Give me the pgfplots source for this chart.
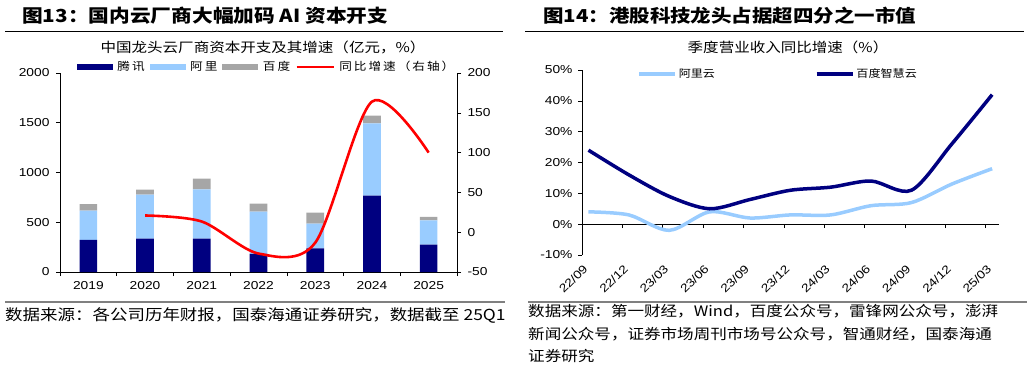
\documentclass[border=0pt]{standalone}
\usepackage{pgfplots}
\usepackage{pgfplotstable}
\pgfplotsset{compat=1.18}
\usepackage{fontspec}
\setmainfont{Liberation Sans}
\newfontfamily\cjk{Noto Sans CJK SC}[FakeStretch=1.15]
\newfontfamily\cjkl{Noto Sans CJK SC}[FakeStretch=1.15, LetterSpace=18]
\newfontfamily\arial{Liberation Sans}[FakeStretch=1.2]
\definecolor{navy}{RGB}{0,0,128}
\definecolor{lblue}{RGB}{153,204,255}
\definecolor{bgray}{RGB}{166,166,166}
\definecolor{rulegray}{RGB}{128,128,128}
\begin{document}
\pgfplotstableread{
x tx ali bd
0 322 294 67
1 335 442 50
2 335 496 107
3 181 425 81
4 238 248 110
5 767 727 77
6 275 244 34
}\capex
\pgfplotstableread{
x ali bd
0.16 4 24
1.16 3 16
2.16 -2 9
3.16 4 5
4.16 2 8
5.16 3 11
6.16 3 12
7.16 6 14
8.16 7 11
9.16 13 26
10.16 18 42
}\cloud
\begin{tikzpicture}[x=1pt,y=1pt]
\useasboundingbox (0,0) rectangle (1032,376);
% titles
\node[anchor=west, inner sep=0] at (22,360) {\cjk\bfseries\fontsize{18}{18}\selectfont 图13：国内云厂商大幅加码 AI 资本开支};
\node[anchor=west, inner sep=0] at (543,360) {\cjk\bfseries\fontsize{17.8}{18}\selectfont 图14：港股科技龙头占据超四分之一市值};
\draw[line width=0.8pt] (5,345) -- (503,345);
\draw[line width=0.8pt] (525,345) -- (1024,345);
\node[inner sep=0] at (263,329) {\cjk\fontsize{13.5}{14}\selectfont 中国龙头云厂商资本开支及其增速（亿元，\%）};
\node[inner sep=0] at (788,329) {\cjk\fontsize{13.5}{14}\selectfont 季度营业收入同比增速（\%）};
% bottom rules and sources
\draw[rulegray, line width=2pt] (5,74) -- (505,74);
\draw[rulegray, line width=2pt] (528,74) -- (1027,74);
\node[anchor=west, inner sep=0, font=\cjk\fontsize{15.2}{16}\selectfont] at (5,61) {数据来源：各公司历年财报，国泰海通证券研究，数据截至 25Q1};
\node[anchor=north west, inner sep=0, align=left, font=\cjk\fontsize{14.4}{22.5}\selectfont] at (528,71.5) {数据来源：第一财经，Wind，百度公众号，雷锋网公众号，澎湃\\新闻公众号，证券市场周刊市场号公众号，智通财经，国泰海通\\证券研究};

% ---------- left chart: bars ----------
\begin{axis}[at={(60pt,104pt)}, anchor=south west, scale only axis,
  width=397pt, height=199pt,
  xmin=-0.5, xmax=6.5, ymin=0, ymax=2000,
  ybar stacked, bar width=17.7pt,
  axis y line*=left, axis x line*=bottom,
  xtick={-0.5,0.5,...,6.5}, x tick label as interval,
  xticklabels={2019,2020,2021,2022,2023,2024,2025},
  ytick={0,500,...,2000},
  tick align=outside, major tick length=4pt,
  tick style={black, line width=0.6pt},
  axis line style={black, line width=0.8pt},
  /pgf/number format/assume math mode=true,
  /pgf/number format/1000 sep={},
  ticklabel style={font=\arial\fontsize{11.5}{12}\selectfont},
  yticklabel style={xshift=-3pt},
  xticklabel style={yshift=-2pt},
  legend columns=4,
  legend style={at={(0.042,1.03)}, anchor=west, draw=none, fill=none,
     inner sep=0pt, font=\cjkl\fontsize{11}{11}\selectfont,
     /tikz/every even column/.append style={column sep=3pt}},
]
\addplot[fill=navy, draw=none, legend image code/.code={\fill[navy] (0pt,-2.7pt) rectangle (36pt,2.7pt); \path (38.5pt,0pt);}] table[x=x,y=tx]{\capex};
\addlegendentry{腾讯}
\addplot[fill=lblue, draw=none, legend image code/.code={\fill[lblue] (0pt,-2.7pt) rectangle (36pt,2.7pt); \path (38.5pt,0pt);}] table[x=x,y=ali]{\capex};
\addlegendentry{阿里}
\addplot[fill=bgray, draw=none, legend image code/.code={\fill[bgray] (0pt,-2.7pt) rectangle (36pt,2.7pt); \path (38.5pt,0pt);}] table[x=x,y=bd]{\capex};
\addlegendentry{百度}
\addlegendimage{red, line width=2.6pt, legend image code/.code={\draw[red, line width=2.6pt] (0pt,0pt) -- (37pt,0pt); \path (39.5pt,0pt);}}
\addlegendentry{同比增速（右轴）}
\end{axis}
% ---------- left chart: growth line ----------
\begin{axis}[at={(60pt,104pt)}, anchor=south west, scale only axis,
  width=397pt, height=199pt,
  xmin=-0.5, xmax=6.5, ymin=-50, ymax=200,
  axis y line*=right, axis x line=none,
  ytick={-50,0,...,200},
  tick align=outside, major tick length=4pt,
  tick style={black, line width=0.6pt},
  axis line style={black, line width=0.8pt},
  /pgf/number format/assume math mode=true,
  ticklabel style={font=\arial\fontsize{11.5}{12}\selectfont},
  yticklabel style={xshift=3pt},
]
\addplot[red, line width=2.6pt, smooth] coordinates {(1,21) (2,13.4) (3,-26.8) (4,-13.2) (5,164) (6,100)};
\end{axis}

% ---------- right chart ----------
\begin{axis}[at={(582pt,121pt)}, anchor=south west, scale only axis,
  width=417pt, height=185pt,
  xmin=0, xmax=10.33, ymin=-10, ymax=50,
  axis x line=middle, axis y line=left,
  hide obscured x ticks=false, hide obscured y ticks=false,
  xtick={0,...,10},
  xticklabels={22/09,22/12,23/03,23/06,23/09,23/12,24/03,24/06,24/09,24/12,25/03},
  ytick={-10,0,...,50},
  yticklabels={-10\%,0\%,10\%,20\%,30\%,40\%,50\%},
  tick align=outside, major tick length=4pt,
  tick style={black, line width=0.6pt},
  axis line style={black, line width=0.8pt, -},
  ticklabel style={font=\arial\fontsize{11.5}{12}\selectfont},
  yticklabel style={xshift=-2pt},
  xticklabel style={xshift=6pt, yshift=-36pt, rotate=45, anchor=east},
  legend columns=2,
  legend style={at={(0.132,0.978)}, anchor=west, draw=none, fill=none,
     inner sep=0pt, font=\cjk\fontsize{10.5}{11}\selectfont,
     /tikz/every even column/.append style={column sep=98pt}},
]
\addplot[lblue, line width=3.5pt, smooth, legend image code/.code={\draw[lblue, line width=3.5pt] (0pt,0pt) -- (36pt,0pt);}] table[x=x,y=ali]{\cloud};
\addlegendentry{阿里云}
\addplot[navy, line width=3.5pt, smooth, legend image code/.code={\draw[navy, line width=3.5pt] (0pt,0pt) -- (36pt,0pt);}] table[x=x,y=bd]{\cloud};
\addlegendentry{百度智慧云}
\end{axis}
\end{tikzpicture}
\end{document}
